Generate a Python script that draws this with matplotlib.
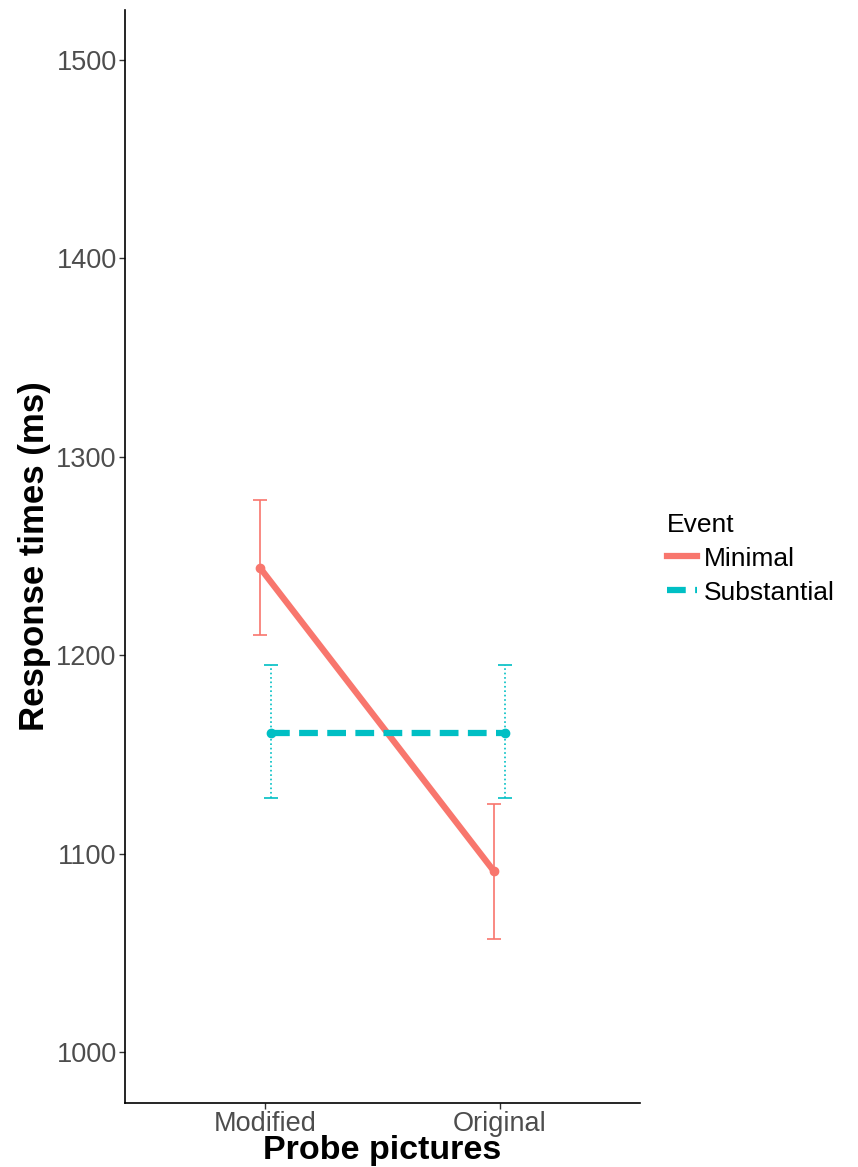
import numpy as np
from matplotlib import pyplot as plt
from matplotlib.lines import Line2D

plt.rc('font', family=['Liberation Sans', 'DejaVu Sans'])

probes = ['Modified', 'Original']
events = ['Minimal', 'Substantial']
means = {'Minimal': [1244, 1091], 'Substantial': [1161, 1161]}
lower = {'Minimal': [1210, 1057], 'Substantial': [1128, 1128]}
upper = {'Minimal': [1278, 1125], 'Substantial': [1195, 1195]}

COLORS = {'Minimal': '#F8766D', 'Substantial': '#00BFC4'}
LINESTYLES = {'Minimal': '-', 'Substantial': (0, (3, 1.5))}
ERR_LS = {'Minimal': '-', 'Substantial': ':'}
DODGE = {'Minimal': -0.023, 'Substantial': 0.023}


def main():
    fig = plt.figure(figsize=(8.58, 11.67), dpi=100)
    ax = fig.add_axes([125 / 858, 1 - 1103 / 1167, 515 / 858, 1093 / 1167])

    x = np.arange(1, len(probes) + 1)
    for ev in events:
        xs = x + DODGE[ev]
        m = np.array(means[ev])
        lo = m - np.array(lower[ev])
        hi = np.array(upper[ev]) - m
        eb = ax.errorbar(xs, m, yerr=[lo, hi], fmt='none', ecolor=COLORS[ev],
                         elinewidth=1.2, capsize=5, capthick=1.2, zorder=2)
        for c in eb[2]:
            c.set_linestyle(ERR_LS[ev])
        ax.plot(xs, m, color=COLORS[ev], lw=4.5, linestyle=LINESTYLES[ev],
                solid_capstyle='butt', dash_capstyle='butt', zorder=3)
        ax.plot(xs, m, 'o', color=COLORS[ev], ms=6, zorder=4)

    ax.set_xlim(0.4, 2.6)
    ax.set_ylim(974.3, 1525.2)
    ax.set_xticks(x)
    ax.set_xticklabels(probes)
    ax.set_yticks([1000, 1100, 1200, 1300, 1400, 1500])
    ax.tick_params(axis='both', labelsize=19.5, labelcolor='#4D4D4D',
                   length=4, width=1, color='#333333', pad=2)
    for s in ['top', 'right']:
        ax.spines[s].set_visible(False)
    for s in ['left', 'bottom']:
        ax.spines[s].set_linewidth(1.2)

    ax.set_ylabel('Response times (ms)', fontsize=25, fontweight='bold', labelpad=4)
    ax.set_xlabel('Probe pictures', fontsize=24.5, fontweight='bold', labelpad=-2)

    handles = [Line2D([0], [0], color=COLORS[ev], lw=4.5, linestyle=LINESTYLES[ev])
               for ev in events]
    leg = fig.legend(handles, events, title='Event', loc='upper left',
                     bbox_to_anchor=(656 / 858, 1 - 502 / 1167), frameon=False,
                     fontsize=19, title_fontsize=19, handlelength=1.15,
                     handletextpad=0.25, labelspacing=0.38, borderaxespad=0)
    leg._legend_box.align = 'left'

    plt.savefig('out.png', dpi=100)


if __name__ == '__main__':
    main()
